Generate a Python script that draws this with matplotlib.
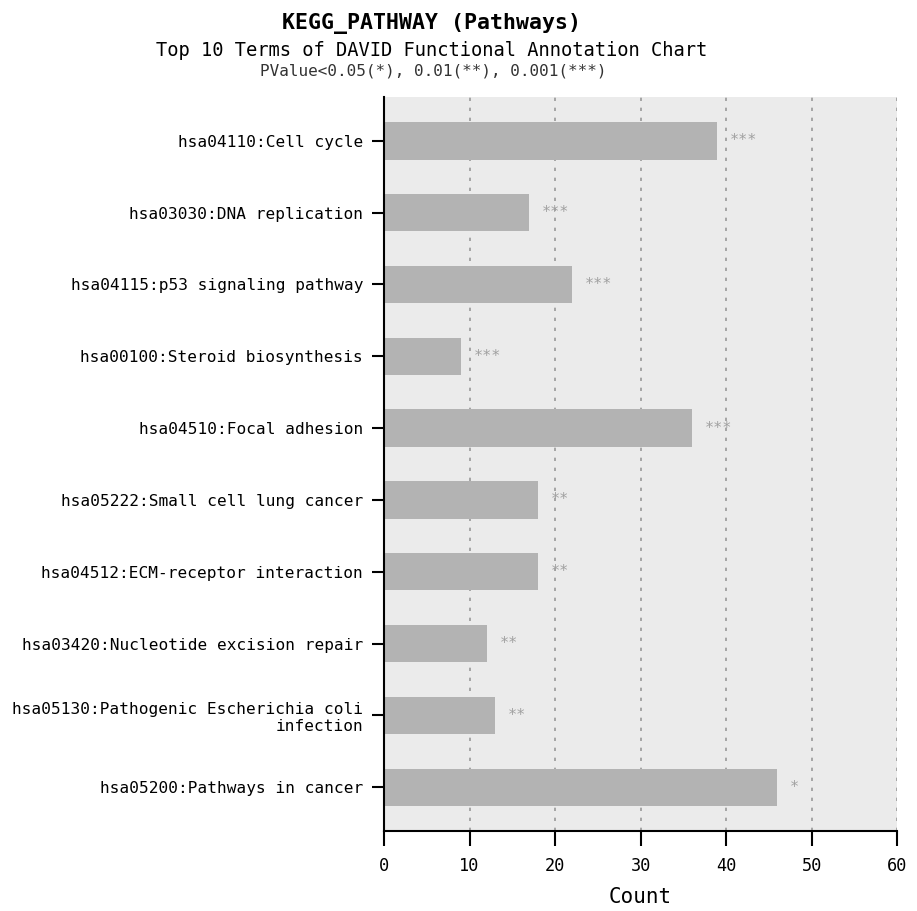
import matplotlib
matplotlib.use("Agg")
import matplotlib.pyplot as plt

# Top 10 KEGG terms (top of chart first)
terms = [
    "hsa04110:Cell cycle",
    "hsa03030:DNA replication",
    "hsa04115:p53 signaling pathway",
    "hsa00100:Steroid biosynthesis",
    "hsa04510:Focal adhesion",
    "hsa05222:Small cell lung cancer",
    "hsa04512:ECM-receptor interaction",
    "hsa03420:Nucleotide excision repair",
    "hsa05130:Pathogenic Escherichia coli\ninfection",
    "hsa05200:Pathways in cancer",
]
counts = [39, 17, 22, 9, 36, 18, 18, 12, 13, 46]
stars = ["***", "***", "***", "***", "***", "**", "**", "**", "**", "*"]
x_ticks = [0, 10, 20, 30, 40, 50, 60]

plt.rcParams['font.family'] = ['DejaVu Sans Mono']

fig = plt.figure(figsize=(9.17, 9.11), dpi=100)
ax = fig.add_axes([0.4188, 0.0878, 0.5594, 0.8057])
ax.set_facecolor('#ebebeb')

pos = list(range(len(terms)))
ax.barh(pos, counts, height=0.52, color='#b3b3b3', zorder=2)

# significance stars right of each bar
for y, c, s in zip(pos, counts, stars):
    ax.text(c + 1.5, y, s, ha='left', va='center', fontsize=11,
            color='#a0a0a0', zorder=3)

ax.set_xlim(0, 60)
ax.set_ylim(len(terms) - 1 + 0.61, -0.61)
ax.set_xticks(x_ticks)
ax.set_yticks(pos)
ax.set_yticklabels(terms, fontsize=11.6, ha='right')
ax.tick_params(axis='x', labelsize=12.2, length=11, width=1.5, pad=8)
ax.tick_params(axis='y', length=9, width=1.5, pad=6)

ax.grid(axis='x', linestyle=(0, (2, 4)), color='#999999', linewidth=1.2, zorder=1)
ax.set_axisbelow(True)

for side in ['top', 'right']:
    ax.spines[side].set_visible(False)
for side in ['left', 'bottom']:
    ax.spines[side].set_linewidth(1.5)

ax.set_xlabel('Count', fontsize=15, labelpad=8)

fig.text(0.471, 1 - 24 / 911, 'KEGG_PATHWAY (Pathways)', ha='center', va='center',
         fontsize=15.5, fontweight='bold')
fig.text(0.471, 1 - 50 / 911, 'Top 10 Terms of DAVID Functional Annotation Chart',
         ha='center', va='center', fontsize=13.5)
fig.text(0.473, 1 - 71 / 911, 'PValue<0.05(*), 0.01(**), 0.001(***)',
         ha='center', va='center', fontsize=11.5, color='#333333')

fig.savefig('out.png', dpi=100)
